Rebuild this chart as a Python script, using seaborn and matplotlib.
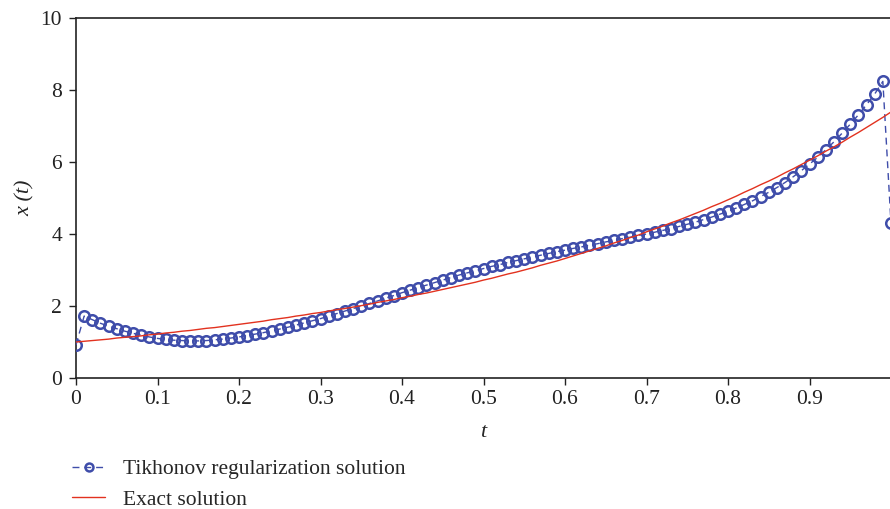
import numpy as np
import pandas as pd
import matplotlib
matplotlib.use("Agg")
import matplotlib.pyplot as plt
import seaborn as sns

# Grid points t = 0, 0.01, ..., 1.00
t_values = [round(0.01 * i, 2) for i in range(101)]

# Regularized reconstruction of x(t)
tikhonov = [
    0.92, 1.72, 1.62, 1.52, 1.44, 1.37, 1.30, 1.24, 1.19, 1.14,
    1.10, 1.07, 1.05, 1.04, 1.03, 1.03, 1.04, 1.06, 1.08, 1.11,
    1.14, 1.18, 1.22, 1.26, 1.31, 1.36, 1.41, 1.47, 1.53, 1.59,
    1.65, 1.72, 1.79, 1.86, 1.93, 2.00, 2.07, 2.14, 2.22, 2.29,
    2.37, 2.44, 2.51, 2.58, 2.65, 2.72, 2.79, 2.86, 2.92, 2.98,
    3.04, 3.10, 3.15, 3.21, 3.26, 3.31, 3.36, 3.41, 3.46, 3.51,
    3.55, 3.60, 3.64, 3.69, 3.73, 3.78, 3.82, 3.87, 3.91, 3.96,
    4.00, 4.05, 4.10, 4.15, 4.21, 4.27, 4.33, 4.40, 4.47, 4.55,
    4.63, 4.72, 4.82, 4.92, 5.04, 5.16, 5.29, 5.43, 5.59, 5.76,
    5.94, 6.13, 6.34, 6.56, 6.80, 7.05, 7.31, 7.59, 7.89, 8.24,
    4.30,
]

# Exact solution x(t)
exact = [
    1.00, 1.02, 1.04, 1.06, 1.08, 1.11, 1.13, 1.15, 1.17, 1.20,
    1.22, 1.25, 1.27, 1.30, 1.32, 1.35, 1.38, 1.40, 1.43, 1.46,
    1.49, 1.52, 1.55, 1.58, 1.62, 1.65, 1.68, 1.72, 1.75, 1.79,
    1.82, 1.86, 1.90, 1.93, 1.97, 2.01, 2.05, 2.10, 2.14, 2.18,
    2.23, 2.27, 2.32, 2.36, 2.41, 2.46, 2.51, 2.56, 2.61, 2.66,
    2.72, 2.77, 2.83, 2.89, 2.94, 3.00, 3.06, 3.13, 3.19, 3.25,
    3.32, 3.39, 3.46, 3.53, 3.60, 3.67, 3.75, 3.82, 3.90, 3.97,
    4.06, 4.14, 4.22, 4.31, 4.39, 4.48, 4.57, 4.66, 4.76, 4.85,
    4.95, 5.05, 5.16, 5.26, 5.37, 5.47, 5.58, 5.70, 5.81, 5.93,
    6.05, 6.17, 6.30, 6.42, 6.55, 6.69, 6.82, 6.96, 7.10, 7.24,
    7.39,
]

x_ticks = [0, 0.1, 0.2, 0.3, 0.4, 0.5, 0.6, 0.7, 0.8, 0.9]
x_tick_labels = ["0", "0.1", "0.2", "0.3", "0.4", "0.5", "0.6", "0.7", "0.8", "0.9"]
y_ticks = [0, 2, 4, 6, 8, 10]

label_tik = "Tikhonov regularization solution"
label_exact = "Exact solution"

df = pd.DataFrame({"t": t_values, "tik": tikhonov, "exact": exact})

sns.set_style("ticks")
plt.rcParams["font.family"] = ["Liberation Serif", "DejaVu Serif"]
plt.rcParams["font.size"] = 15

blue = "#3F4DAA"
red = "#E2321F"

fig = plt.figure(figsize=(8.9, 5.09), dpi=100)
ax = fig.add_axes([76 / 890, 131 / 509, 815 / 890, 360 / 509])

sns.lineplot(data=df, x="t", y="tik", ax=ax, color=blue, linewidth=1.0,
             dashes=False, marker="o", markersize=7.6, markerfacecolor="none",
             markeredgecolor=blue, markeredgewidth=1.8, label=label_tik,
             zorder=3)
ax.lines[-1].set_dashes([5, 3.5])
sns.lineplot(data=df, x="t", y="exact", ax=ax, color=red, linewidth=1.0,
             label=label_exact, zorder=4)

ax.set_xlim(0, 1.0)
ax.set_ylim(0, 10)
ax.set_xticks(x_ticks)
ax.set_xticklabels(x_tick_labels)
ax.set_yticks(y_ticks)
ax.tick_params(direction="out", length=5, width=1.0, labelsize=15.5,
               colors="#222222")
ax.tick_params(axis="x", pad=4)
ax.tick_params(axis="y", pad=5)

for side in ["left", "bottom", "top"]:
    ax.spines[side].set_linewidth(1.2)
    ax.spines[side].set_color("#222222")
ax.spines["right"].set_visible(False)

ax.set_xlabel("t", fontstyle="italic", fontsize=16)
ax.set_ylabel("x (t)", fontstyle="italic", fontsize=16)
ax.xaxis.set_label_coords(0.5, -0.125)
ax.yaxis.set_label_coords(-0.05, 0.5)

ax.legend(loc="upper left", bbox_to_anchor=(72 / 890, 1 - 459 / 509),
          bbox_transform=fig.transFigure, frameon=False, borderpad=0,
          borderaxespad=0, handlelength=1.55, handletextpad=0.8,
          labelspacing=0.5, fontsize=15.5, markerscale=0.75)

fig.savefig("out.png", dpi=100)
